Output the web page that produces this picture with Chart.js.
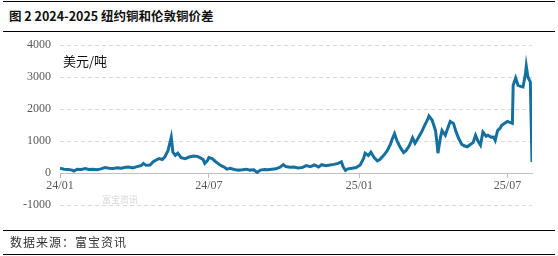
<!DOCTYPE html>
<html>
<head>
<meta charset="utf-8">
<script src="https://cdn.jsdelivr.net/npm/chart.js@4.4.1/dist/chart.umd.min.js"></script>
<style>
    body { margin: 0; background: #fff; }
    #wrap { position: relative; width: 558px; height: 256px; overflow: hidden; font-family: "Noto Sans CJK SC", sans-serif; }
    #wrap canvas { position: absolute; left: 0; top: 0; }
    .rule { position: absolute; left: 3px; width: 552px; border-top: 1px solid #000; }
    #title { position: absolute; left: 9px; top: 6px; font-size: 12.5px; font-weight: bold; color: #111; white-space: pre; }
    #unit { position: absolute; left: 63px; top: 51px; font-size: 13px; color: #111; }
    #source { position: absolute; left: 10px; top: 233px; font-size: 12px; color: #333; letter-spacing: 1px; }
    #mark { position: absolute; left: 102px; top: 193px; font-size: 9px; color: #d6d6d6; }
</style>
</head>
<body>
<div id="wrap">
    <div class="rule" style="top:1px"></div>
    <div id="title">图 2 2024-2025 纽约铜和伦敦铜价差</div>
    <div class="rule" style="top:31px"></div>
    <canvas id="spread" width="558" height="256"></canvas>
    <div id="unit">美元/吨</div>
    <div id="mark">富宝资讯</div>
    <div class="rule" style="top:230px"></div>
    <div id="source">数据来源：富宝资讯</div>
    <div class="rule" style="top:254px"></div>
</div>

<script>
// days since 2024-01-01
const dayOffset = [
    0, 5, 10, 15, 17, 21, 26, 31, 35, 40, 45, 50, 55, 60, 65, 70, 75, 80, 84, 89,
    94, 99, 102, 105, 110, 114, 117, 121, 125, 128, 132, 136, 138, 141, 144, 148, 153, 158, 163, 168,
    171, 175, 177, 180, 182, 186, 190, 193, 197, 201, 204, 208, 213, 218, 223, 228, 232, 237, 241, 245,
    250, 254, 259, 264, 269, 273, 276, 281, 286, 291, 296, 301, 306, 311, 316, 320, 325, 330, 335, 340,
    344, 346, 349, 352, 357, 362, 367, 371, 373, 377, 380, 384, 388, 391, 396, 400, 404, 406, 409, 412,
    416, 420, 423, 427, 431, 434, 438, 442, 445, 449, 451, 455, 459, 461, 462, 465, 467, 471, 474, 477,
    481, 484, 487, 491, 494, 498, 502, 505, 508, 511, 514, 517, 521, 523, 527, 530, 532, 535, 538, 540,
    544, 547, 550, 553, 554, 557, 560, 564, 566, 569, 570, 572, 575, 577
];
// NY copper minus LME copper, USD/t
const spread = [
    150, 120, 110, 90, 60, 120, 110, 140, 110, 120, 100, 130, 170, 150, 140, 160, 150, 180, 190, 160,
    200, 230, 300, 240, 250, 350, 400, 450, 420, 500, 700, 1120, 650, 550, 620, 480, 450, 500, 530, 520,
    480, 420, 300, 380, 480, 450, 360, 300, 230, 180, 120, 150, 110, 90, 100, 120, 90, 100, 20, 90,
    110, 100, 120, 130, 180, 260, 200, 180, 190, 160, 170, 230, 200, 250, 190, 260, 230, 250, 270, 300,
    350, 200, 80, 130, 150, 170, 250, 450, 620, 550, 650, 480, 380, 420, 560, 700, 900, 1050, 1230, 1000,
    800, 640, 700, 850, 1100, 930, 1100, 1280, 1450, 1650, 1780, 1650, 1330, 900, 620, 1100, 1330, 1180, 1400, 1610,
    1550, 1300, 1100, 900, 850, 820, 900, 950, 1180, 1000, 870, 1280, 1150, 1180, 1120, 1125, 1020, 1330, 1400, 1490,
    1560, 1610, 1580, 1550, 2740, 2970, 2740, 2700, 2690, 3100, 3340, 3000, 2840, 340
];
const xTickDays = [0, 182, 366, 547];
const xTickLabels = ['24/01', '24/07', '25/01', '25/07'];

const points = dayOffset.map((d, i) => ({ x: d, y: spread[i] }));
const tickFont = { family: "'Liberation Serif', serif", size: 12 };

new Chart(document.getElementById('spread'), {
    type: 'line',
    data: {
        datasets: [{
            data: points,
            borderColor: '#1570a0',
            borderWidth: 3,
            pointRadius: 0,
            tension: 0
        }]
    },
    options: {
        responsive: false,
        animation: false,
        layout: { padding: { left: 0, right: 26, top: 45, bottom: 51 } },
        plugins: { legend: { display: false }, tooltip: { enabled: false } },
        scales: {
            x: {
                type: 'linear',
                position: { y: 0 },
                min: 0,
                max: 577,
                afterBuildTicks: scale => {
                    scale.ticks = xTickDays.map(v => ({ value: v }));
                },
                afterFit: scale => { scale.height = 0; },
                ticks: {
                    autoSkip: false,
                    maxRotation: 0,
                    padding: 2,
                    color: '#595959',
                    font: tickFont,
                    callback: value => xTickLabels[xTickDays.indexOf(value)]
                },
                grid: { drawOnChartArea: false, drawTicks: true, tickLength: 4, color: '#bfbfbf' },
                border: { display: true, color: '#bfbfbf', width: 1 }
            },
            y: {
                min: -1000,
                max: 4000,
                afterFit: scale => { scale.width = 60; },
                ticks: {
                    stepSize: 1000,
                    padding: 9,
                    color: '#595959',
                    font: tickFont,
                    callback: value => String(value)
                },
                grid: {
                    drawTicks: false,
                    color: ctx => ctx.tick && ctx.tick.value === 0 ? 'rgba(0,0,0,0)' : '#d9d9d9'
                },
                border: { display: false, dash: [4, 3] }
            }
        }
    }
});
</script>
</body>
</html>
